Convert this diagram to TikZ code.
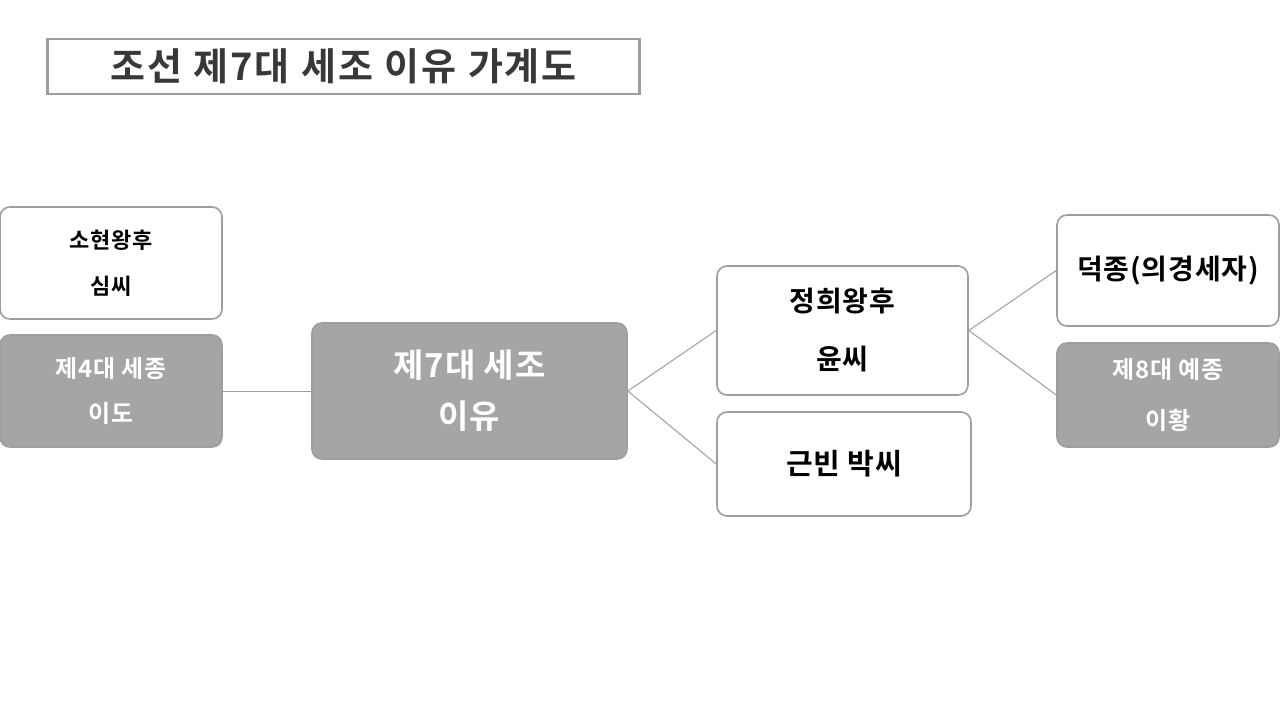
\documentclass[tikz,border=0pt]{standalone}
\usepackage{fontspec}
\setmainfont{Noto Sans CJK KR}[BoldFont={* Bold}]
\newfontfamily\titlefont{Noto Sans CJK KR Bold}[LetterSpace=5,WordSpace=1.1]
\definecolor{boxgray}{HTML}{A5A5A5}
\definecolor{edgegray}{HTML}{9E9E9E}
\definecolor{titlecol}{HTML}{383838}
\newcommand{\spaced}{\addfontfeatures{LetterSpace=3}}
\begin{document}
\begin{tikzpicture}[x=1pt,y=-1pt,
  box/.style={draw=edgegray, line width=1.6pt, rounded corners=10pt, inner sep=0pt, align=center},
  wbox/.style={box, fill=white, text=black},
  gbox/.style={box, fill=boxgray, text=white},
  link/.style={draw=edgegray, line width=1pt}]
\useasboundingbox (0,0) rectangle (1280,720);
\fill[white] (0,0) rectangle (1280,720);
% title
\node[draw=edgegray, line width=2.5pt, fill=white, minimum width=592pt, minimum height=55pt, inner sep=0pt, text=titlecol, font=\titlefont\fontsize{38}{40}\selectfont] (title) at (343.5,66.5) {조선 제7대 세조 이유 가계도};
% nodes
\node[wbox, minimum width=222pt, minimum height=112pt, font=\bfseries\fontsize{22}{46}\selectfont\spaced] (sohyeon) at (111,263) {소현왕후\\심씨};
\node[gbox, minimum width=222pt, minimum height=112pt, font=\bfseries\fontsize{24}{45}\selectfont\spaced] (sejong) at (111,391) {제4대 세종\\이도};
\node[gbox, minimum width=315pt, minimum height=136pt, font=\bfseries\fontsize{33}{51}\selectfont\spaced] (sejo) at (469.5,391) {제7대 세조\\이유};
\node[wbox, minimum width=251pt, minimum height=129pt, font=\bfseries\fontsize{28}{58}\selectfont\spaced] (jeonghui) at (842.5,330.5) {정희왕후\\윤씨};
\node[wbox, minimum width=254pt, minimum height=104pt, font=\bfseries\fontsize{29}{30}\selectfont\spaced] (geunbin) at (844,464) {근빈 박씨};
\node[wbox, minimum width=222pt, minimum height=111pt, font=\bfseries\fontsize{28}{30}\selectfont\spaced] (deokjong) at (1168,270.5) {덕종(의경세자)};
\node[gbox, minimum width=222pt, minimum height=104pt, font=\bfseries\fontsize{24}{51}\selectfont\spaced] (yejong) at (1168,395) {제8대 예종\\이황};
% connectors
\draw[link] (sejong.east) -- (sejo.west);
\draw[link] (sejo.east) -- (jeonghui.west);
\draw[link] (sejo.east) -- (geunbin.west);
\draw[link] (jeonghui.east) -- (deokjong.west);
\draw[link] (jeonghui.east) -- (yejong.west);
\end{tikzpicture}
\end{document}
